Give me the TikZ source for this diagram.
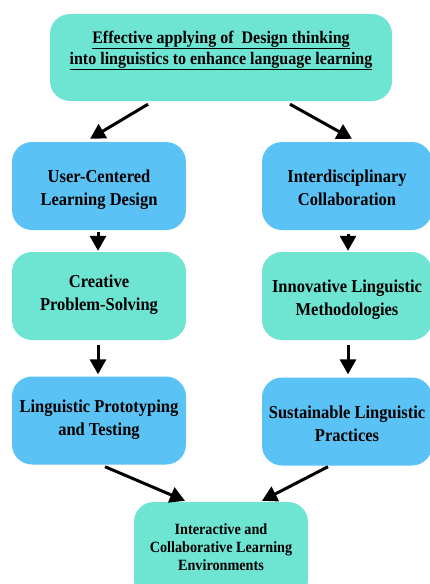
\documentclass[tikz,border=0pt]{standalone}
\usepackage{fontspec}
\usepackage{graphicx}
\setmainfont{Liberation Serif}
\usetikzlibrary{arrows.meta}
\definecolor{tealbox}{RGB}{110,228,210}
\definecolor{bluebox}{RGB}{91,194,245}
\newcommand{\vtext}[2][0pt]{\raisebox{#1}[\height][\depth]{\scalebox{1}[1.1]{\begin{tabular}{@{}c@{}}#2\end{tabular}}}}
\tikzset{
  box/.style={draw=none, rounded corners=20pt, minimum width=174pt, minimum height=88pt, inner sep=0pt, align=center, font=\bfseries\fontsize{16.5}{21}\selectfont},
  tealfill/.style={box, fill=tealbox},
  bluefill/.style={box, fill=bluebox},
  arr/.style={line width=3pt, -{Triangle[length=15pt,width=16pt]}},
}
\begin{document}
\begin{tikzpicture}[x=1pt,y=-1pt]
\useasboundingbox (0,0) rectangle (430,584);
\node[tealfill, minimum width=342pt, minimum height=87pt] (top) at (221,57.5) {};
\node[font=\bfseries\fontsize{16}{19}\selectfont, inner sep=0pt] (toptext) at (221,49.5)
  {\vtext{\underline{Effective applying of\ \ Design thinking}\\\underline{into linguistics to enhance language learning}}};
\node[bluefill] (L1) at (99,186) {\vtext[-3pt]{User-Centered\\Learning Design}};
\node[tealfill] (L2) at (99,296) {\vtext[1.5pt]{Creative\\Problem-Solving}};
\node[bluefill] (L3) at (99,420.5) {\vtext[1.5pt]{Linguistic Prototyping\\and Testing}};
\node[bluefill, minimum width=170pt] (R1) at (347,186) {\vtext[-3pt]{Interdisciplinary\\Collaboration}};
\node[tealfill, minimum width=170pt] (R2) at (347,296) {\vtext[-3pt]{Innovative Linguistic\\Methodologies}};
\node[bluefill, minimum width=170pt] (R3) at (347,421.5) {\vtext[-4pt]{Sustainable Linguistic\\Practices}};
\node[tealfill, minimum height=98pt] (B) at (221,551) {};
\node[font=\bfseries\fontsize{14.2}{16.4}\selectfont, inner sep=0pt] (btext) at (221,549)
  {\vtext{Interactive and\\Collaborative Learning\\Environments}};
\draw[arr] ([xshift=-73pt,yshift=-3pt]top.south) -- ([xshift=-9pt,yshift=3pt]L1.north);
\draw[arr] ([xshift=69pt,yshift=-3pt]top.south) -- ([xshift=5pt,yshift=3pt]R1.north);
\draw[arr] ([xshift=-1pt,yshift=-2pt]L1.south) -- ([xshift=-1pt,yshift=1pt]L2.north);
\draw[arr] ([xshift=-1pt,yshift=-5pt]L2.south) -- ([xshift=-1pt,yshift=2pt]L3.north);
\draw[arr] ([xshift=1pt,yshift=-4pt]R1.south) -- ([xshift=1pt,yshift=1pt]R2.north);
\draw[arr] ([xshift=1pt,yshift=-5pt]R2.south) -- ([xshift=1pt,yshift=3pt]R3.north);
\draw[arr] ([xshift=6pt,yshift=-2pt]L3.south) -- ([xshift=-36pt,yshift=1pt]B.north);
\draw[arr] ([xshift=-19pt,yshift=-1pt]R3.south) -- ([xshift=41pt,yshift=1pt]B.north);
\end{tikzpicture}
\end{document}
